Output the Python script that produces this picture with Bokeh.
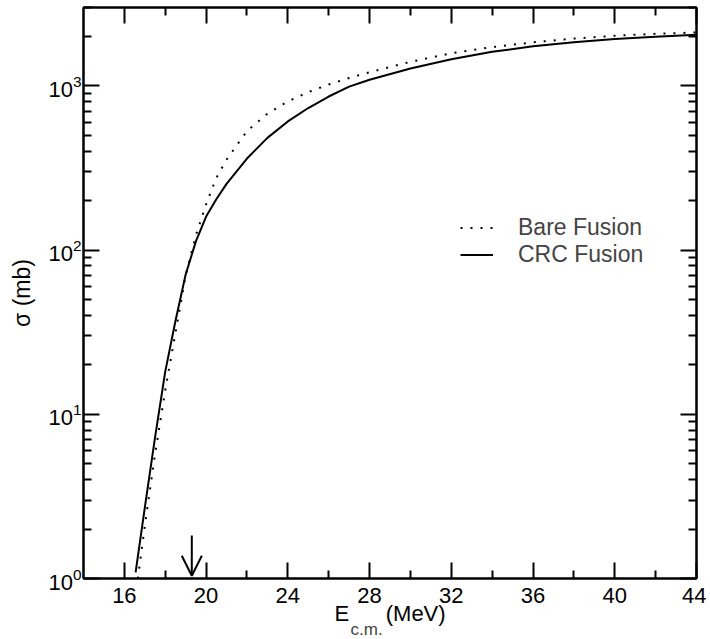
from bokeh.plotting import figure
from bokeh.models import (FixedTicker, LinearAxis, Range1d, Legend, Title,
                          LegendItem, Arrow, OpenHead, CustomJSTickFormatter)
from bokeh.embed import file_html
from bokeh.resources import INLINE

# ---- data ----
E_bare = [16.66, 17, 17.5, 18, 18.5, 19, 19.5, 20, 20.5, 21, 22, 23, 24, 25, 26, 27, 28,
          30, 32, 34, 36, 38, 40, 42, 44]
sigma_bare = [1.0, 2.09, 5.7, 14.0, 31.3, 70, 123, 190, 275, 355, 531, 676, 804, 916, 1019,
              1117, 1211, 1400, 1578, 1722, 1841, 1941, 2018, 2075, 2113]

E_crc = [16.55, 17, 17.5, 18, 18.5, 19, 19.5, 20, 20.5, 21, 22, 23, 24, 25, 26, 27, 28,
         30, 32, 34, 36, 38, 40, 42, 44]
sigma_crc = [1.09, 2.7, 7.2, 18.2, 37, 71, 113, 160, 204, 253, 361, 482, 607, 733, 861,
             989, 1089, 1277, 1452, 1611, 1742, 1845, 1928, 1991, 2046]

x_major = [16, 20, 24, 28, 32, 36, 40, 44]
x_minor = [18, 22, 26, 30, 34, 38, 42]
y_major = [1, 10, 100, 1000]
y_minor = [2, 3, 4, 5, 6, 7, 8, 9, 20, 30, 40, 50, 60, 70, 80, 90,
           200, 300, 400, 500, 600, 700, 800, 900, 2000, 3000]

arrow_E = 19.3
arrow_sigma = [1.83, 1.04]

FONT = "Liberation Sans"
NB = "\u00a0"

p = figure(frame_width=613, frame_height=571, x_range=Range1d(14, 44), y_range=Range1d(1, 3000),
           y_axis_type="log", output_backend="svg", toolbar_location=None,
           min_border_left=83, min_border_right=10, min_border_top=7, min_border_bottom=61)
p.grid.visible = False
p.outline_line_color = "black"
p.outline_line_width = 2

def style(ax):
    ax.axis_line_width = 2
    ax.axis_line_color = "black"
    ax.major_tick_line_width = 2
    ax.minor_tick_line_width = 2
    ax.major_tick_in = 16
    ax.major_tick_out = 0
    ax.minor_tick_in = 8
    ax.minor_tick_out = 0
    ax.major_label_text_font = FONT
    ax.major_label_text_color = "black"
    ax.major_label_text_font_size = "22px"
    ax.axis_label_text_font = FONT
    ax.axis_label_text_font_size = "22px"
    ax.axis_label_text_font_style = "normal"
    ax.axis_label_text_color = "black"

p.xaxis.ticker = FixedTicker(ticks=x_major, minor_ticks=x_minor)
p.yaxis.ticker = FixedTicker(ticks=y_major, minor_ticks=y_minor)
style(p.xaxis[0])
style(p.yaxis[0])
p.xaxis.major_label_standoff = 9
p.yaxis.major_label_standoff = 2
p.yaxis.axis_label = "σ (mb)"
p.yaxis.axis_label_standoff = 10
p.yaxis.axis_label_text_font_size = "23px"
p.xaxis.axis_label = "E" + NB * 6 + "(MeV)"
p.xaxis.axis_label_standoff = -5

blank = CustomJSTickFormatter(code="return ''")
top = LinearAxis(ticker=FixedTicker(ticks=x_major, minor_ticks=x_minor), formatter=blank)
style(top)
top.major_label_standoff = 0
p.add_layout(top, "above")
right = LinearAxis(ticker=FixedTicker(ticks=y_major, minor_ticks=y_minor), formatter=blank)
style(right)
right.major_label_standoff = 0
p.add_layout(right, "right")

# subscript of the x-axis title
p.add_layout(Title(text="c.m.", align="left", offset=267, standoff=-21,
                   text_font=FONT, text_font_size="17px", text_font_style="normal"), "below")

r_bare = p.line(E_bare, sigma_bare, line_color="black", line_width=2, line_dash="2 8")
r_crc = p.line(E_crc, sigma_crc, line_color="black", line_width=2)

legend = Legend(items=[LegendItem(label="Bare Fusion", renderers=[r_bare]),
                       LegendItem(label="CRC Fusion", renderers=[r_crc])],
                location=(377, 310), border_line_color=None, background_fill_alpha=0,
                padding=0, margin=0, spacing=0, glyph_width=33, glyph_height=25,
                label_height=25, label_standoff=25, label_text_font=FONT,
                label_text_font_size="23px")
p.add_layout(legend)

p.add_layout(Arrow(x_start=arrow_E, y_start=arrow_sigma[0], x_end=arrow_E, y_end=arrow_sigma[1],
                   line_width=2, line_color="black",
                   end=OpenHead(size=20, line_width=2, line_color="black")))

open("out.html", "w").write(file_html(p, INLINE))
